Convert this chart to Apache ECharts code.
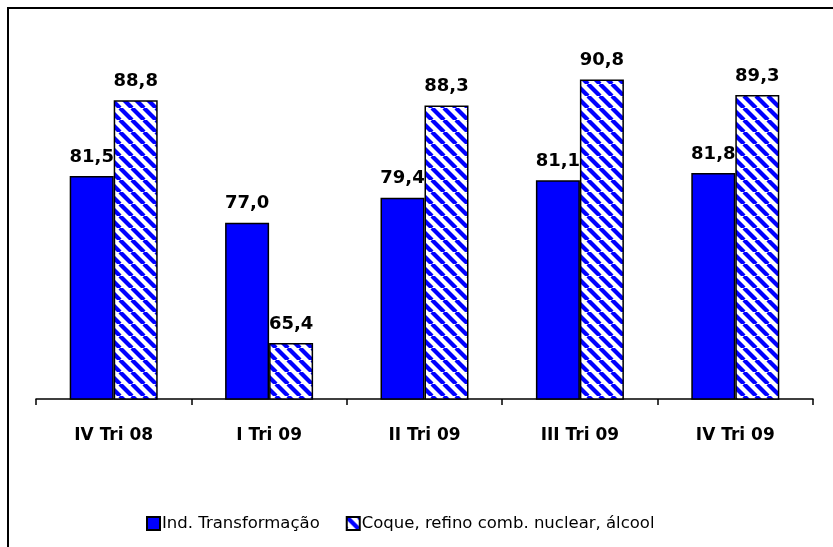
<!DOCTYPE html>
<html>
<head>
<meta charset="utf-8">
<script src="https://cdn.jsdelivr.net/npm/echarts@6/dist/echarts.min.js"></script>
<style>html,body{margin:0;padding:0;background:#fff;}#c{width:833px;height:547px;}</style>
</head>
<body>
<div id="c"></div>
<script>
const categories = ['IV Tri 08', 'I Tri 09', 'II Tri 09', 'III Tri 09', 'IV Tri 09'];
const seriesNames = ['Ind. Transformação', 'Coque, refino comb. nuclear, álcool'];
const indTransformacao = [81.5, 77.0, 79.4, 81.1, 81.8];
const coqueRefino = [88.8, 65.4, 88.3, 90.8, 89.3];

function hatch() {
  const s = 12;
  const cv = document.createElement('canvas');
  cv.width = s; cv.height = s;
  const ctx = cv.getContext('2d');
  ctx.fillStyle = '#ffffff';
  ctx.fillRect(0, 0, s, s);
  ctx.strokeStyle = '#0000ff';
  ctx.lineWidth = 4.2;
  for (const o of [-s, 0, s]) {
    ctx.beginPath();
    ctx.moveTo(o, 0);
    ctx.lineTo(o + s, s);
    ctx.stroke();
  }
  return cv;
}

const chart = echarts.init(document.getElementById('c'));
const fmt = p => p.value.toFixed(1).replace('.', ',');
const labelStyle = {
  show: true, position: 'top', distance: 10, color: '#000',
  fontFamily: 'DejaVu Sans', fontWeight: 'bold', fontSize: 18, formatter: fmt
};
chart.setOption({
  animation: false,
  backgroundColor: '#fff',
  graphic: [{
    type: 'polyline', silent: true,
    shape: { points: [[8, 547], [8, 8], [833, 8]] },
    style: { stroke: '#000', lineWidth: 2, fill: null }
  }],
  grid: { left: 36, right: 20, top: 36, bottom: 148 },
  legend: {
    left: 141, top: 510, itemWidth: 13, itemHeight: 13, itemGap: 26,
    icon: 'rect',
    textStyle: { fontFamily: 'DejaVu Sans', fontSize: 16.5, color: '#000', padding: [2, 0, 0, -3] },
    data: seriesNames
  },
  xAxis: {
    type: 'category', data: categories,
    axisLine: { lineStyle: { color: '#000', width: 1.5 } },
    axisTick: { show: true, length: 6, lineStyle: { color: '#000', width: 1.5 } },
    axisLabel: { margin: 28, color: '#000', fontFamily: 'DejaVu Sans', fontWeight: 'bold', fontSize: 17 }
  },
  yAxis: { type: 'value', min: 60, max: 95, show: false, splitLine: { show: false } },
  series: [
    {
      name: seriesNames[0], type: 'bar', data: indTransformacao, barWidth: 44, barGap: '0%',
      itemStyle: { color: '#0000ff', borderColor: '#000', borderWidth: 1.5 },
      label: labelStyle
    },
    {
      name: seriesNames[1], type: 'bar', data: coqueRefino, barWidth: 44,
      itemStyle: { color: { image: hatch(), repeat: 'repeat' }, borderColor: '#000', borderWidth: 1.5 },
      label: labelStyle
    }
  ]
});
</script>
</body>
</html>
